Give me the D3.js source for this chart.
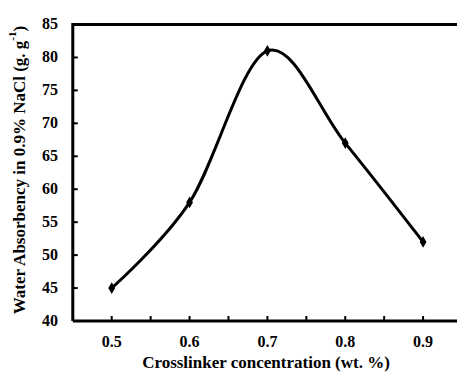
<!DOCTYPE html>
<html><head><meta charset="utf-8">
<script src="https://cdn.jsdelivr.net/npm/d3@7"></script>
<style>body{margin:0;background:#fff}svg{display:block}</style>
</head><body>
<script>
const xValues = [0.5, 0.6, 0.7, 0.8, 0.9];
const absorbency = [45, 58, 81, 67, 52];
const xTickLabels = [0.5, 0.6, 0.7, 0.8, 0.9];
const xMinorTicks = [0.5, 0.55, 0.6, 0.65, 0.7, 0.75, 0.8, 0.85, 0.9];
const yTicks = [40, 45, 50, 55, 60, 65, 70, 75, 80, 85];

const W = 457, H = 372;
const svg = d3.select("body").append("svg").attr("width", W).attr("height", H);
const font = "'Liberation Serif','Times New Roman',serif";

const x = d3.scaleLinear().domain([0.45, 0.95]).range([72.8, 462]);
const y = d3.scaleLinear().domain([40, 85]).range([321, 24.5]);

// y ticks (inward)
svg.append("g").selectAll("line").data(yTicks.slice(1, -1)).join("line")
  .attr("x1", x(0.45)).attr("x2", x(0.45) + 5)
  .attr("y1", d => y(d)).attr("y2", d => y(d))
  .attr("stroke", "#000").attr("stroke-width", 2);
svg.append("g").selectAll("text").data(yTicks).join("text")
  .attr("x", 58).attr("y", d => y(d) - 1).attr("text-anchor", "end")
  .attr("dominant-baseline", "central")
  .attr("font-family", font).attr("font-weight", "bold").attr("font-size", 16)
  .text(d => d);

// x ticks (inward)
svg.append("g").selectAll("line").data(xMinorTicks).join("line")
  .attr("x1", d => x(d)).attr("x2", d => x(d))
  .attr("y1", y(40)).attr("y2", y(40) - 5)
  .attr("stroke", "#000").attr("stroke-width", 2);
svg.append("g").selectAll("text").data(xTickLabels).join("text")
  .attr("x", d => x(d)).attr("y", 341.5).attr("text-anchor", "middle")
  .attr("dominant-baseline", "central")
  .attr("font-family", font).attr("font-weight", "bold").attr("font-size", 16)
  .text(d => d.toFixed(1));

// frame
svg.append("path")
  .attr("d", `M${x(0.45)},${y(40)}L${x(0.45)},${y(85)}L${W + 5},${y(85)}M${x(0.45)},${y(40)}L${W + 5},${y(40)}`)
  .attr("fill", "none").attr("stroke", "#000").attr("stroke-width", 3);

// curve
const pts = xValues.map((v, i) => [v, absorbency[i]]);
svg.append("path").datum(pts)
  .attr("d", d3.line().x(d => x(d[0])).y(d => y(d[1])).curve(d3.curveCardinal.tension(0)))
  .attr("fill", "none").attr("stroke", "#000").attr("stroke-width", 3);

svg.append("g").selectAll("path").data(pts).join("path")
  .attr("transform", d => `translate(${x(d[0])},${y(d[1])})`)
  .attr("d", d3.symbol(d3.symbolDiamond, 40))
  .attr("fill", "#000");

// axis titles
svg.append("text").attr("x", 266).attr("y", 362).attr("text-anchor", "middle")
  .attr("dominant-baseline", "central")
  .attr("font-family", font).attr("font-weight", "bold").attr("font-size", 17)
  .text("Crosslinker concentration (wt. %)");

const yt = svg.append("text").attr("transform", "translate(19,170) rotate(-90)")
  .attr("text-anchor", "middle").attr("dominant-baseline", "central")
  .attr("font-family", font).attr("font-weight", "bold").attr("font-size", 17);
yt.append("tspan").text("Water Absorbency in 0.9% NaCl (g. g");
yt.append("tspan").attr("font-size", 11).attr("dy", -7).text("-1");
yt.append("tspan").attr("dy", 7).text(")");
</script>
</body></html>
